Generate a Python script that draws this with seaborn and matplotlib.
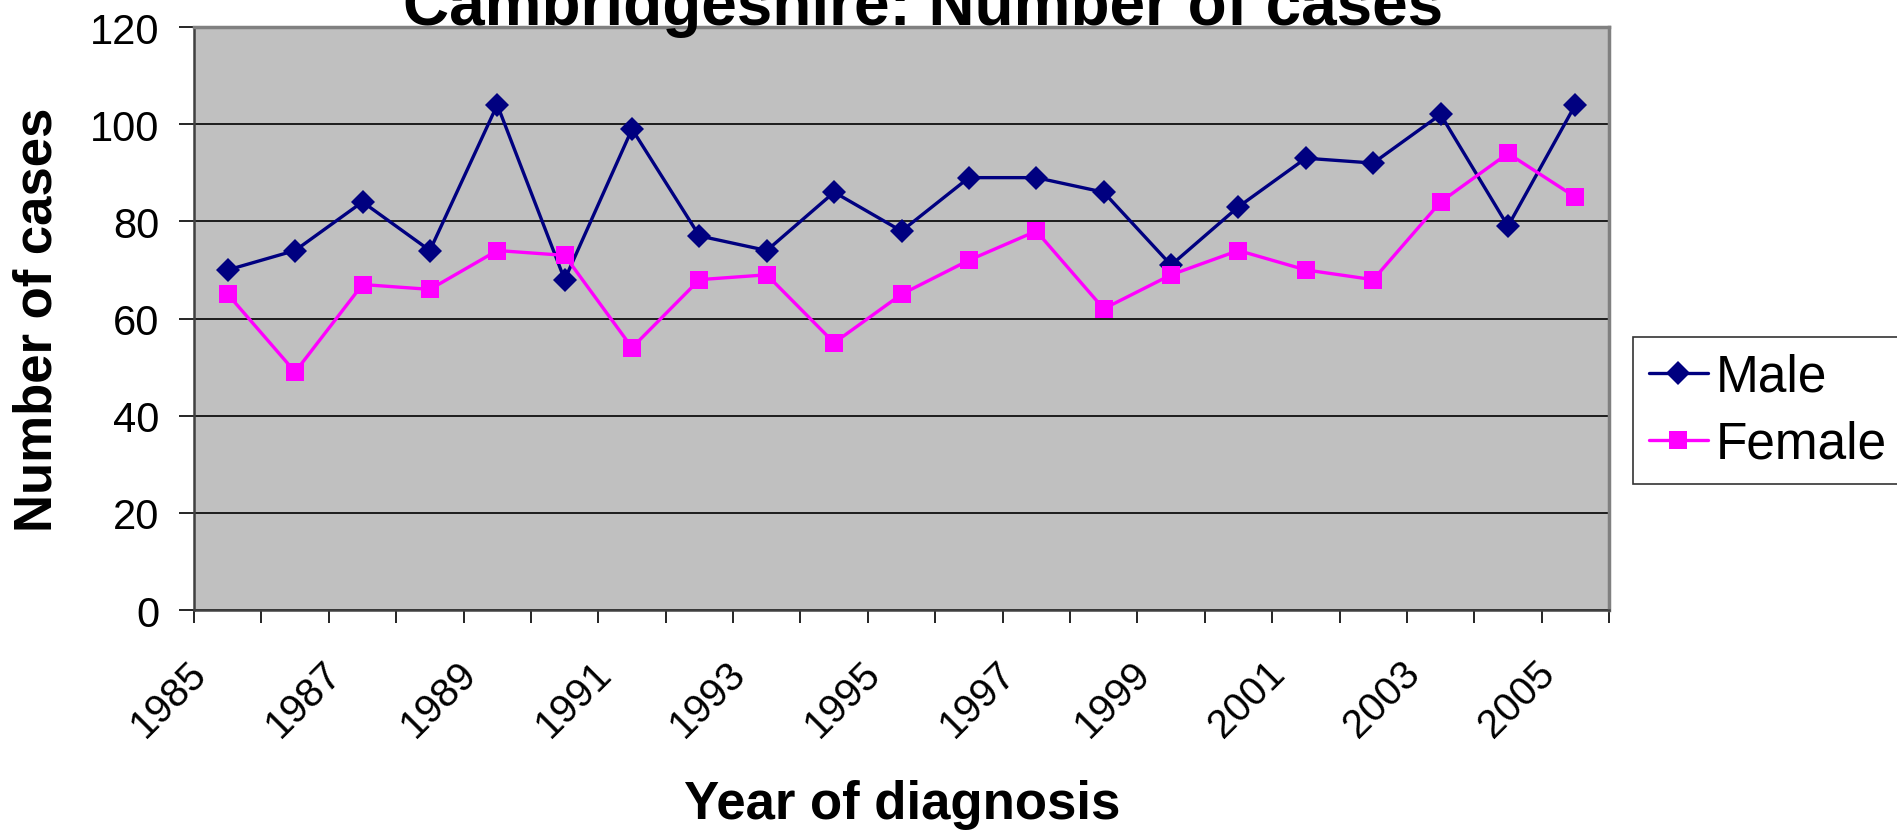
import numpy as np
import pandas as pd
import matplotlib
matplotlib.use("Agg")
import matplotlib.pyplot as plt
import matplotlib.transforms as mtransforms
import seaborn as sns

years = list(range(1985, 2006))
male = [70, 74, 84, 74, 104, 68, 99, 77, 74, 86, 78, 89, 89, 86, 71, 83, 93, 92, 102, 79, 104]
female = [65, 49, 67, 66, 74, 73, 54, 68, 69, 55, 65, 72, 78, 62, 69, 74, 70, 68, 84, 94, 85]
y_ticks = [0, 20, 40, 60, 80, 100, 120]

df = pd.DataFrame({
    "Year": years * 2,
    "Cases": male + female,
    "Sex": ["Male"] * len(years) + ["Female"] * len(years),
})

sns.set_style("white", {"text.color": "black", "axes.labelcolor": "black",
                        "xtick.color": "black", "ytick.color": "black"})
plt.rcParams["font.family"] = ["Liberation Sans", "DejaVu Sans"]

fig = plt.figure(figsize=(18.97, 8.37), dpi=100)
ax = fig.add_axes([0.1023, 0.270, 0.7459, 0.6965])
ax.set_facecolor("#C0C0C0")

sns.lineplot(data=df, x="Year", y="Cases", hue="Sex", style="Sex",
             palette={"Male": "#000080", "Female": "#FF00FF"},
             markers={"Male": "D", "Female": "s"}, dashes=False,
             markersize=12.5, markeredgewidth=0, linewidth=2.4, ax=ax, zorder=3)

ax.set_ylim(0, 120)
ax.set_yticks(y_ticks)
ax.set_xlim(years[0] - 0.5, years[-1] + 0.5)
ax.yaxis.grid(True, color="black", linewidth=1.2)
ax.set_axisbelow(True)

# ticks at category boundaries, labels at centres every second year
ax.set_xticks([y - 0.5 for y in years] + [years[-1] + 0.5])
ax.set_xticklabels([])
ax.set_xticks(years[::2], minor=True)
ax.set_xticklabels([str(y) for y in years[::2]], minor=True, rotation=45,
                   ha="right", va="top", rotation_mode="anchor", fontsize=29)
ax.tick_params(axis="x", which="major", direction="out", length=9, width=1.2,
               color="black", bottom=True)
ax.tick_params(axis="x", which="minor", length=0, pad=28, bottom=True)
ax.tick_params(axis="y", direction="out", length=11, width=1.2, color="black",
               labelsize=30, left=True, pad=14)

shift = mtransforms.ScaledTranslation(-29 / 72, -3 / 72, fig.dpi_scale_trans)
for lab in ax.get_xticklabels(minor=True):
    lab.set_transform(lab.get_transform() + shift)

for side in ["left", "bottom"]:
    ax.spines[side].set_color("#404040")
    ax.spines[side].set_linewidth(1.8)
for side in ["top", "right"]:
    ax.spines[side].set_color("#808080")
    ax.spines[side].set_linewidth(2.5)

ax.set_xlabel("")
ax.set_ylabel("")
fig.text(0.020, 0.618, "Number of cases", rotation=90, ha="center", va="center",
         fontsize=38, fontweight="bold")
fig.text(0.4755, 0.038, "Year of diagnosis", ha="center", va="center",
         fontsize=38, fontweight="bold")
fig.text(0.4865, 0.97, "Cambridgeshire: Number of cases", ha="center", va="baseline",
         fontsize=46, fontweight="bold")

handles, labels = ax.get_legend_handles_labels()
leg = fig.legend(handles, labels, loc="upper left", bbox_to_anchor=(0.861, 0.596),
                 fontsize=37, frameon=True, fancybox=False, edgecolor="black",
                 handlelength=1.15, handletextpad=0.15, borderpad=0.3,
                 labelspacing=0.35, borderaxespad=0)
leg.get_frame().set_linewidth(1.2)
ax.get_legend().remove()

fig.savefig("out.png", dpi=100)
